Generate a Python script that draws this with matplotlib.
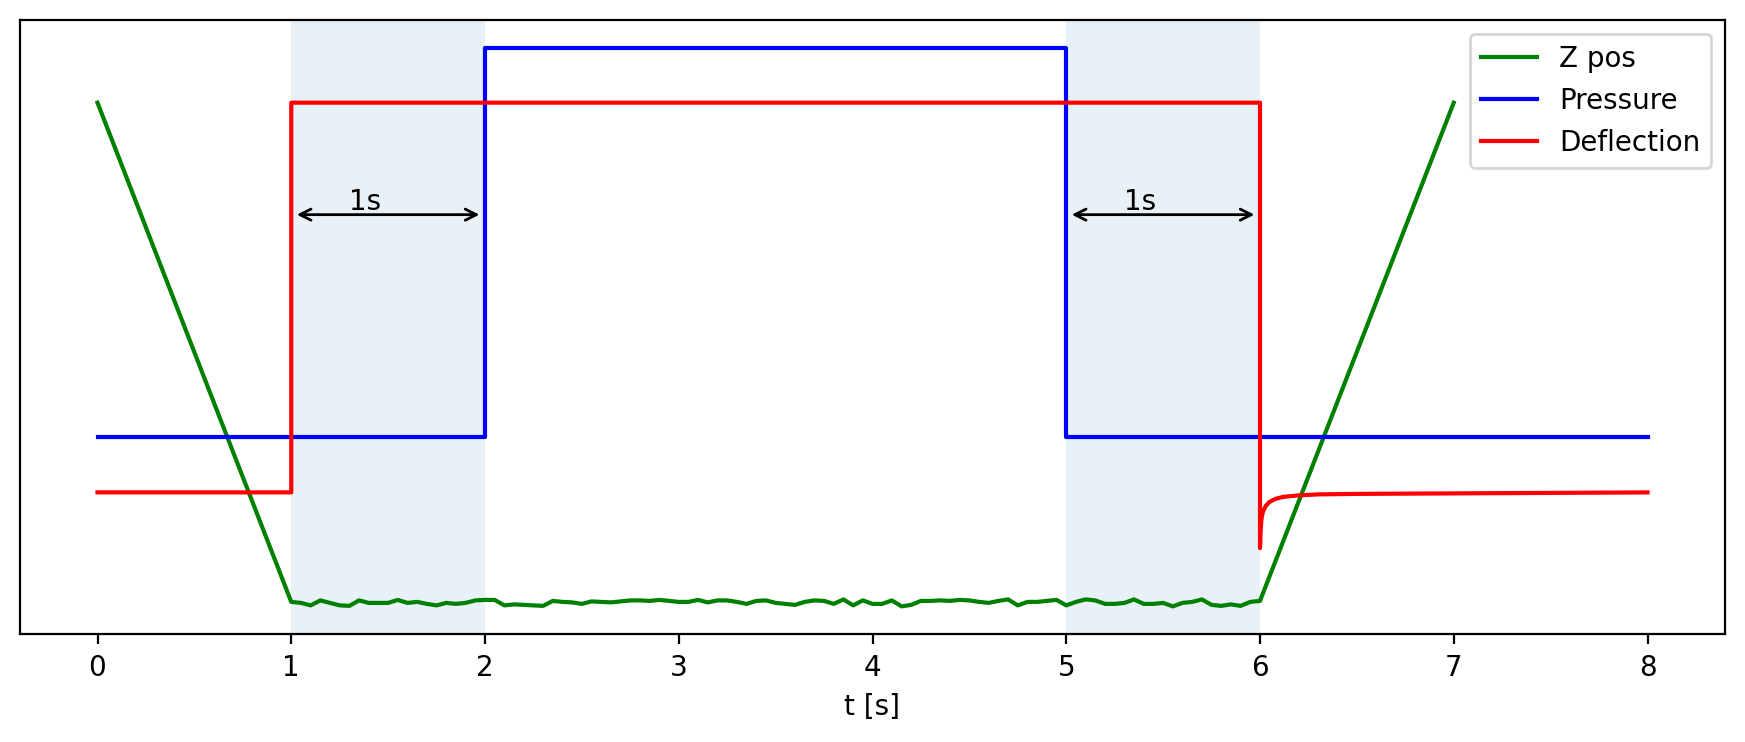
import numpy as np
import matplotlib
matplotlib.use("Agg")
import matplotlib.pyplot as plt

# Z position: ramp down, noisy contact phase (t = 1.00 ... 6.00, step 0.05), ramp up
z_top = 1.0
z_noise_milli = [
    -3, -5, -10, 0, -5, -10, -11, 0, -5, -5,
    -5, 1, -5, -3, -7, -10, -5, -7, -5, 0,
    1, 1, -10, -8, -9, -10, -11, -1, -3, -4,
    -7, -2, -3, -4, -2, 0, 0, -1, 1, -1,
    -3, -3, 1, -4, 0, 0, -3, -7,
    -1, 0, -5, -7, -9, -3, 0, -1, -7, 2,
    -10, 0, -7, -7, 0, -12, -9, -1, -1, 0,
    -1, 1, 0, -3, -5, -1, 2, -10, -3, -3,
    -1, 1, -10, -3, 2, 0, -7, -7, -5, 2,
    -7, -7, -5, -12, -5, -3, 2, -9, -11, -8,
    -11, -3, -1,
]
t_contact = np.linspace(1.0, 6.0, len(z_noise_milli))
t_z = np.concatenate([[0.0], t_contact, [7.0]])
z_pos = np.concatenate([[z_top], np.array(z_noise_milli) / 1000.0, [z_top]])

# Pressure: low / high steps
t_p = [0, 2, 2, 5, 5, 8]
pressure = [0.328, 0.328, 1.11, 1.11, 0.328, 0.328]

# Deflection: step at t=1, release at t=6 with a short undershoot and recovery
t_d = [0, 1, 1, 6, 6, 6.003, 6.008, 6.015, 6.03, 6.05, 6.08, 6.12, 6.2, 6.3, 6.5, 7.0, 7.5, 8.0]
deflection = [0.217, 0.217, 1.0, 1.0, 0.105, 0.14, 0.165, 0.178, 0.19, 0.198, 0.204,
              0.208, 0.211, 0.213, 0.214, 0.215, 0.216, 0.217]

fig = plt.figure(figsize=(8.725, 3.71), dpi=200)
ax = fig.add_axes([20 / 1745, 1 - 634.3 / 742, (1725 - 20) / 1745, (634.3 - 20) / 742])

ax.axvspan(1, 2, color="tab:blue", alpha=0.1, lw=0)
ax.axvspan(5, 6, color="tab:blue", alpha=0.1, lw=0)

ax.plot(t_z, z_pos, color="green", label="Z pos")
ax.plot(t_p, pressure, color="blue", label="Pressure")
ax.plot(t_d, deflection, color="red", label="Deflection")

for x0 in (1, 5):
    ax.annotate("", xy=(x0, 0.775), xytext=(x0 + 1, 0.775),
                arrowprops=dict(arrowstyle="<->", color="black"))
    ax.text(x0 + 0.3, 0.785, "1s")

ax.set_yticks([])
ax.set_xlabel("t [s]")
ax.legend(loc="upper right")

fig.savefig("out.png", dpi=200)
